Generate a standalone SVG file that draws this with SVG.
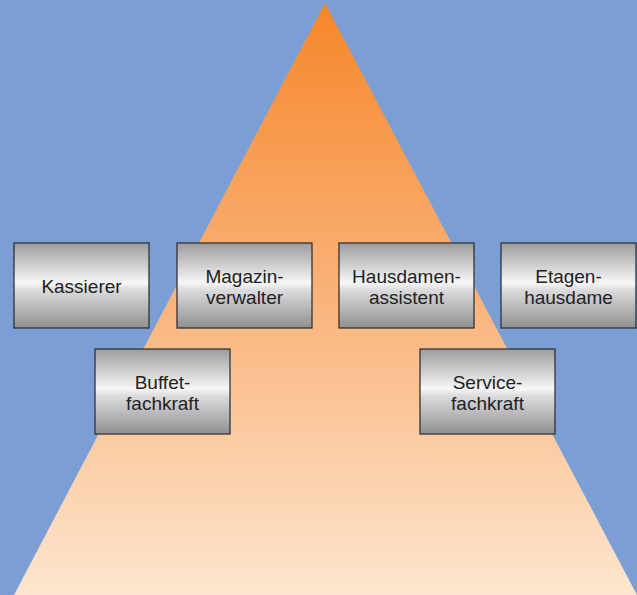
<svg xmlns="http://www.w3.org/2000/svg" width="637" height="595" viewBox="0 0 637 595">
<defs>
<linearGradient id="tri" x1="0" y1="0" x2="0" y2="1">
<stop offset="0" stop-color="#f5862a"/>
<stop offset="0.5" stop-color="#fab37a"/>
<stop offset="1" stop-color="#fde6cf"/>
</linearGradient>
<linearGradient id="box" x1="0" y1="0" x2="0" y2="1">
<stop offset="0" stop-color="#9c9c9e"/>
<stop offset="0.47" stop-color="#f7f7f8"/>
<stop offset="0.55" stop-color="#dcdcde"/>
<stop offset="1" stop-color="#909093"/>
</linearGradient>
</defs>
<style>
.b{fill:url(#box);stroke:#333;stroke-width:1.3}
.t{font-family:"Liberation Sans",Arial,sans-serif;font-size:19px;fill:#222;text-anchor:middle}
</style>
<rect width="637" height="595" fill="#7b9fd4"/>
<polygon points="325,3 637,595 14,595" fill="url(#tri)"/>
<g id="connectors"/>
<g id="kassierer"><rect class="b" x="14" y="243" width="135" height="85"/><text class="t" x="81.5" y="292.5">Kassierer</text></g>
<g id="magazinverwalter"><rect class="b" x="177" y="243" width="135" height="85"/><text class="t" x="244.5" y="282.5">Magazin-</text><text class="t" x="244.5" y="304">verwalter</text></g>
<g id="hausdamenassistent"><rect class="b" x="339" y="243" width="135" height="85"/><text class="t" x="406.5" y="282.5">Hausdamen-</text><text class="t" x="406.5" y="304">assistent</text></g>
<g id="etagenhausdame"><rect class="b" x="501" y="243" width="135" height="85"/><text class="t" x="568.5" y="282.5">Etagen-</text><text class="t" x="568.5" y="304">hausdame</text></g>
<g id="buffetfachkraft"><rect class="b" x="95" y="349" width="135" height="85"/><text class="t" x="162.5" y="388.5">Buffet-</text><text class="t" x="162.5" y="410">fachkraft</text></g>
<g id="servicefachkraft"><rect class="b" x="420" y="349" width="135" height="85"/><text class="t" x="487.5" y="388.5">Service-</text><text class="t" x="487.5" y="410">fachkraft</text></g>
</svg>
